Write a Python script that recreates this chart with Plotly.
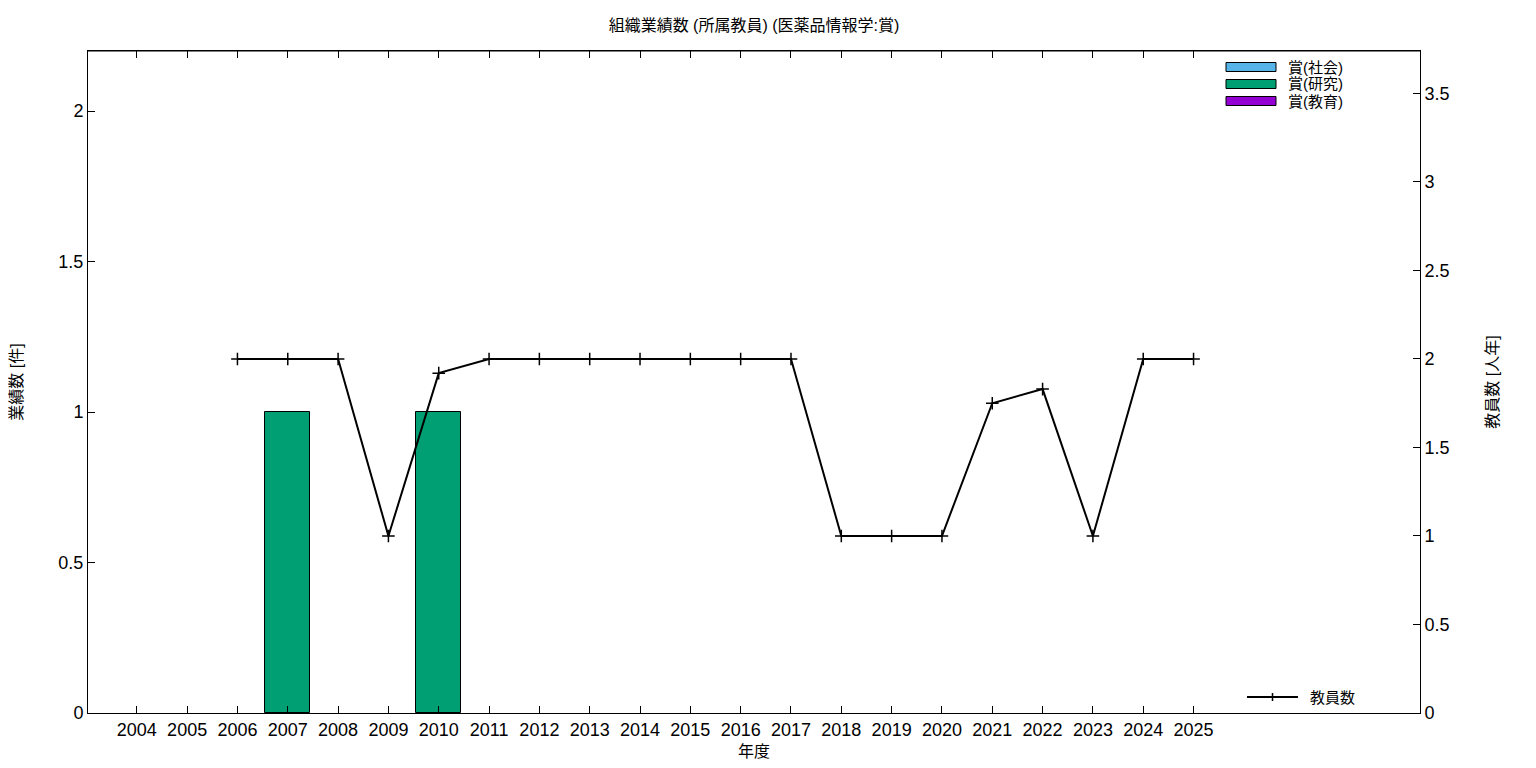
import plotly.graph_objects as go

years = list(range(2004, 2026))
award_social = [0] * 22
award_research = [0, 0, 0, 1, 0, 0, 1, 0, 0, 0, 0, 0, 0, 0, 0, 0, 0, 0, 0, 0, 0, 0]
award_education = [0] * 22
staff_years = list(range(2006, 2026))
staff = [2, 2, 2, 1, 1.92, 2, 2, 2, 2, 2, 2, 2, 1, 1, 1, 1.75, 1.83, 1, 2, 2]

series_names = ["賞(社会)", "賞(研究)", "賞(教育)"]
series_colors = ["#56b4e9", "#009e73", "#9400d3"]
line_name = "教員数"

FONT = "Liberation Sans, Noto Sans CJK JP, sans-serif"

fig = go.Figure()
for name, vals, col in zip(series_names, [award_social, award_research, award_education], series_colors):
    xs = [y for y, v in zip(years, vals) if v > 0]
    vs = [v for v in vals if v > 0]
    fig.add_trace(go.Bar(x=xs, y=vs, name=name, width=0.9,
                         marker=dict(color=col, line=dict(color="black", width=1)),
                         showlegend=False))

fig.add_trace(go.Scatter(x=staff_years, y=staff, yaxis="y2", mode="lines+markers",
                         name=line_name, line=dict(color="black", width=2),
                         marker=dict(symbol="cross-thin", size=9, line=dict(color="black", width=1.5)),
                         showlegend=False))

# page has an 8px body margin; figure is 1520x752 placed at (8,8)
OFF = 8
FW, FH = 1536 - 2 * OFF, 768 - 2 * OFF
L, R, T, B = 88, 1420, 51, 713
W, H = R - L, B - T
def px(x): return (x - L) / W
def py(y): return (B - y) / H

shapes = []
annotations = []
for i, (name, col) in enumerate(zip(series_names, series_colors)):
    cy = 67 + i * 17
    shapes.append(dict(type="rect", xref="paper", yref="paper",
                       x0=px(1226), x1=px(1276), y0=py(cy + 4.5), y1=py(cy - 4.5),
                       fillcolor=col, line=dict(color="black", width=1)))
    annotations.append(dict(xref="paper", yref="paper", x=px(1286), y=py(cy),
                            text=name, showarrow=False, xanchor="left", yanchor="middle",
                            font=dict(size=15, color="black", family=FONT)))
ly = 697
shapes.append(dict(type="line", xref="paper", yref="paper", x0=px(1247), x1=px(1298),
                   y0=py(ly), y1=py(ly), line=dict(color="black", width=2)))
shapes.append(dict(type="line", xref="paper", yref="paper", x0=px(1272.5), x1=px(1272.5),
                   y0=py(ly - 4), y1=py(ly + 4), line=dict(color="black", width=1.5)))
annotations.append(dict(xref="paper", yref="paper", x=px(1308), y=py(ly),
                        text=line_name, showarrow=False, xanchor="left", yanchor="middle",
                        font=dict(size=15, color="black", family=FONT)))

shapes.append(dict(type="line", xref="paper", yref="paper", x0=0, x1=1, y0=1, y1=1,
                   line=dict(color="black", width=1)))

fig.update_layout(
    width=FW, height=FH,
    margin=dict(l=L - OFF, r=FW - (R - OFF), t=T - OFF, b=FH - (B - OFF), autoexpand=False),
    paper_bgcolor="white", plot_bgcolor="white",
    font=dict(family=FONT, color="black", size=16),
    title=dict(text="組織業績数 (所属教員) (医薬品情報学:賞)", x=0.5, xref="paper", xanchor="center",
               yref="container", y=1 - (25 - OFF) / FH, yanchor="middle", font=dict(size=16)),
    barmode="stack",
    bargap=0,
    shapes=shapes, annotations=annotations,
    xaxis=dict(range=[2003.03, 2029.5], tickvals=years, ticktext=[str(y) for y in years],
               ticks="inside", ticklen=7, tickcolor="black", showline=True, linecolor="black",
               linewidth=1, mirror="ticks", showgrid=False, zeroline=False, automargin=False,
               title=dict(text="年度", font=dict(size=16), standoff=12),
               tickfont=dict(size=18)),
    yaxis=dict(range=[0, 2.2], tickvals=[0, 0.5, 1, 1.5, 2], ticktext=["0", "0.5", "1", "1.5", "2"],
               ticks="inside", ticklen=7, tickcolor="black", showline=True, linecolor="black",
               linewidth=1, showgrid=False, zeroline=False, automargin=False,
               title=dict(text="業績数 [件]", font=dict(size=16), standoff=31),
               tickfont=dict(size=18)),
    yaxis2=dict(range=[0, 3.74], overlaying="y", side="right",
                tickvals=[0, 0.5, 1, 1.5, 2, 2.5, 3, 3.5],
                ticktext=["0", "0.5", "1", "1.5", "2", "2.5", "3", "3.5"],
                ticks="inside", ticklen=7, tickcolor="black", showline=True, linecolor="black",
                linewidth=1, showgrid=False, zeroline=False, automargin=False,
                title=dict(text="教員数 [人年]", font=dict(size=16), standoff=38),
                tickfont=dict(size=18)),
)

fig.write_html("out.html")
